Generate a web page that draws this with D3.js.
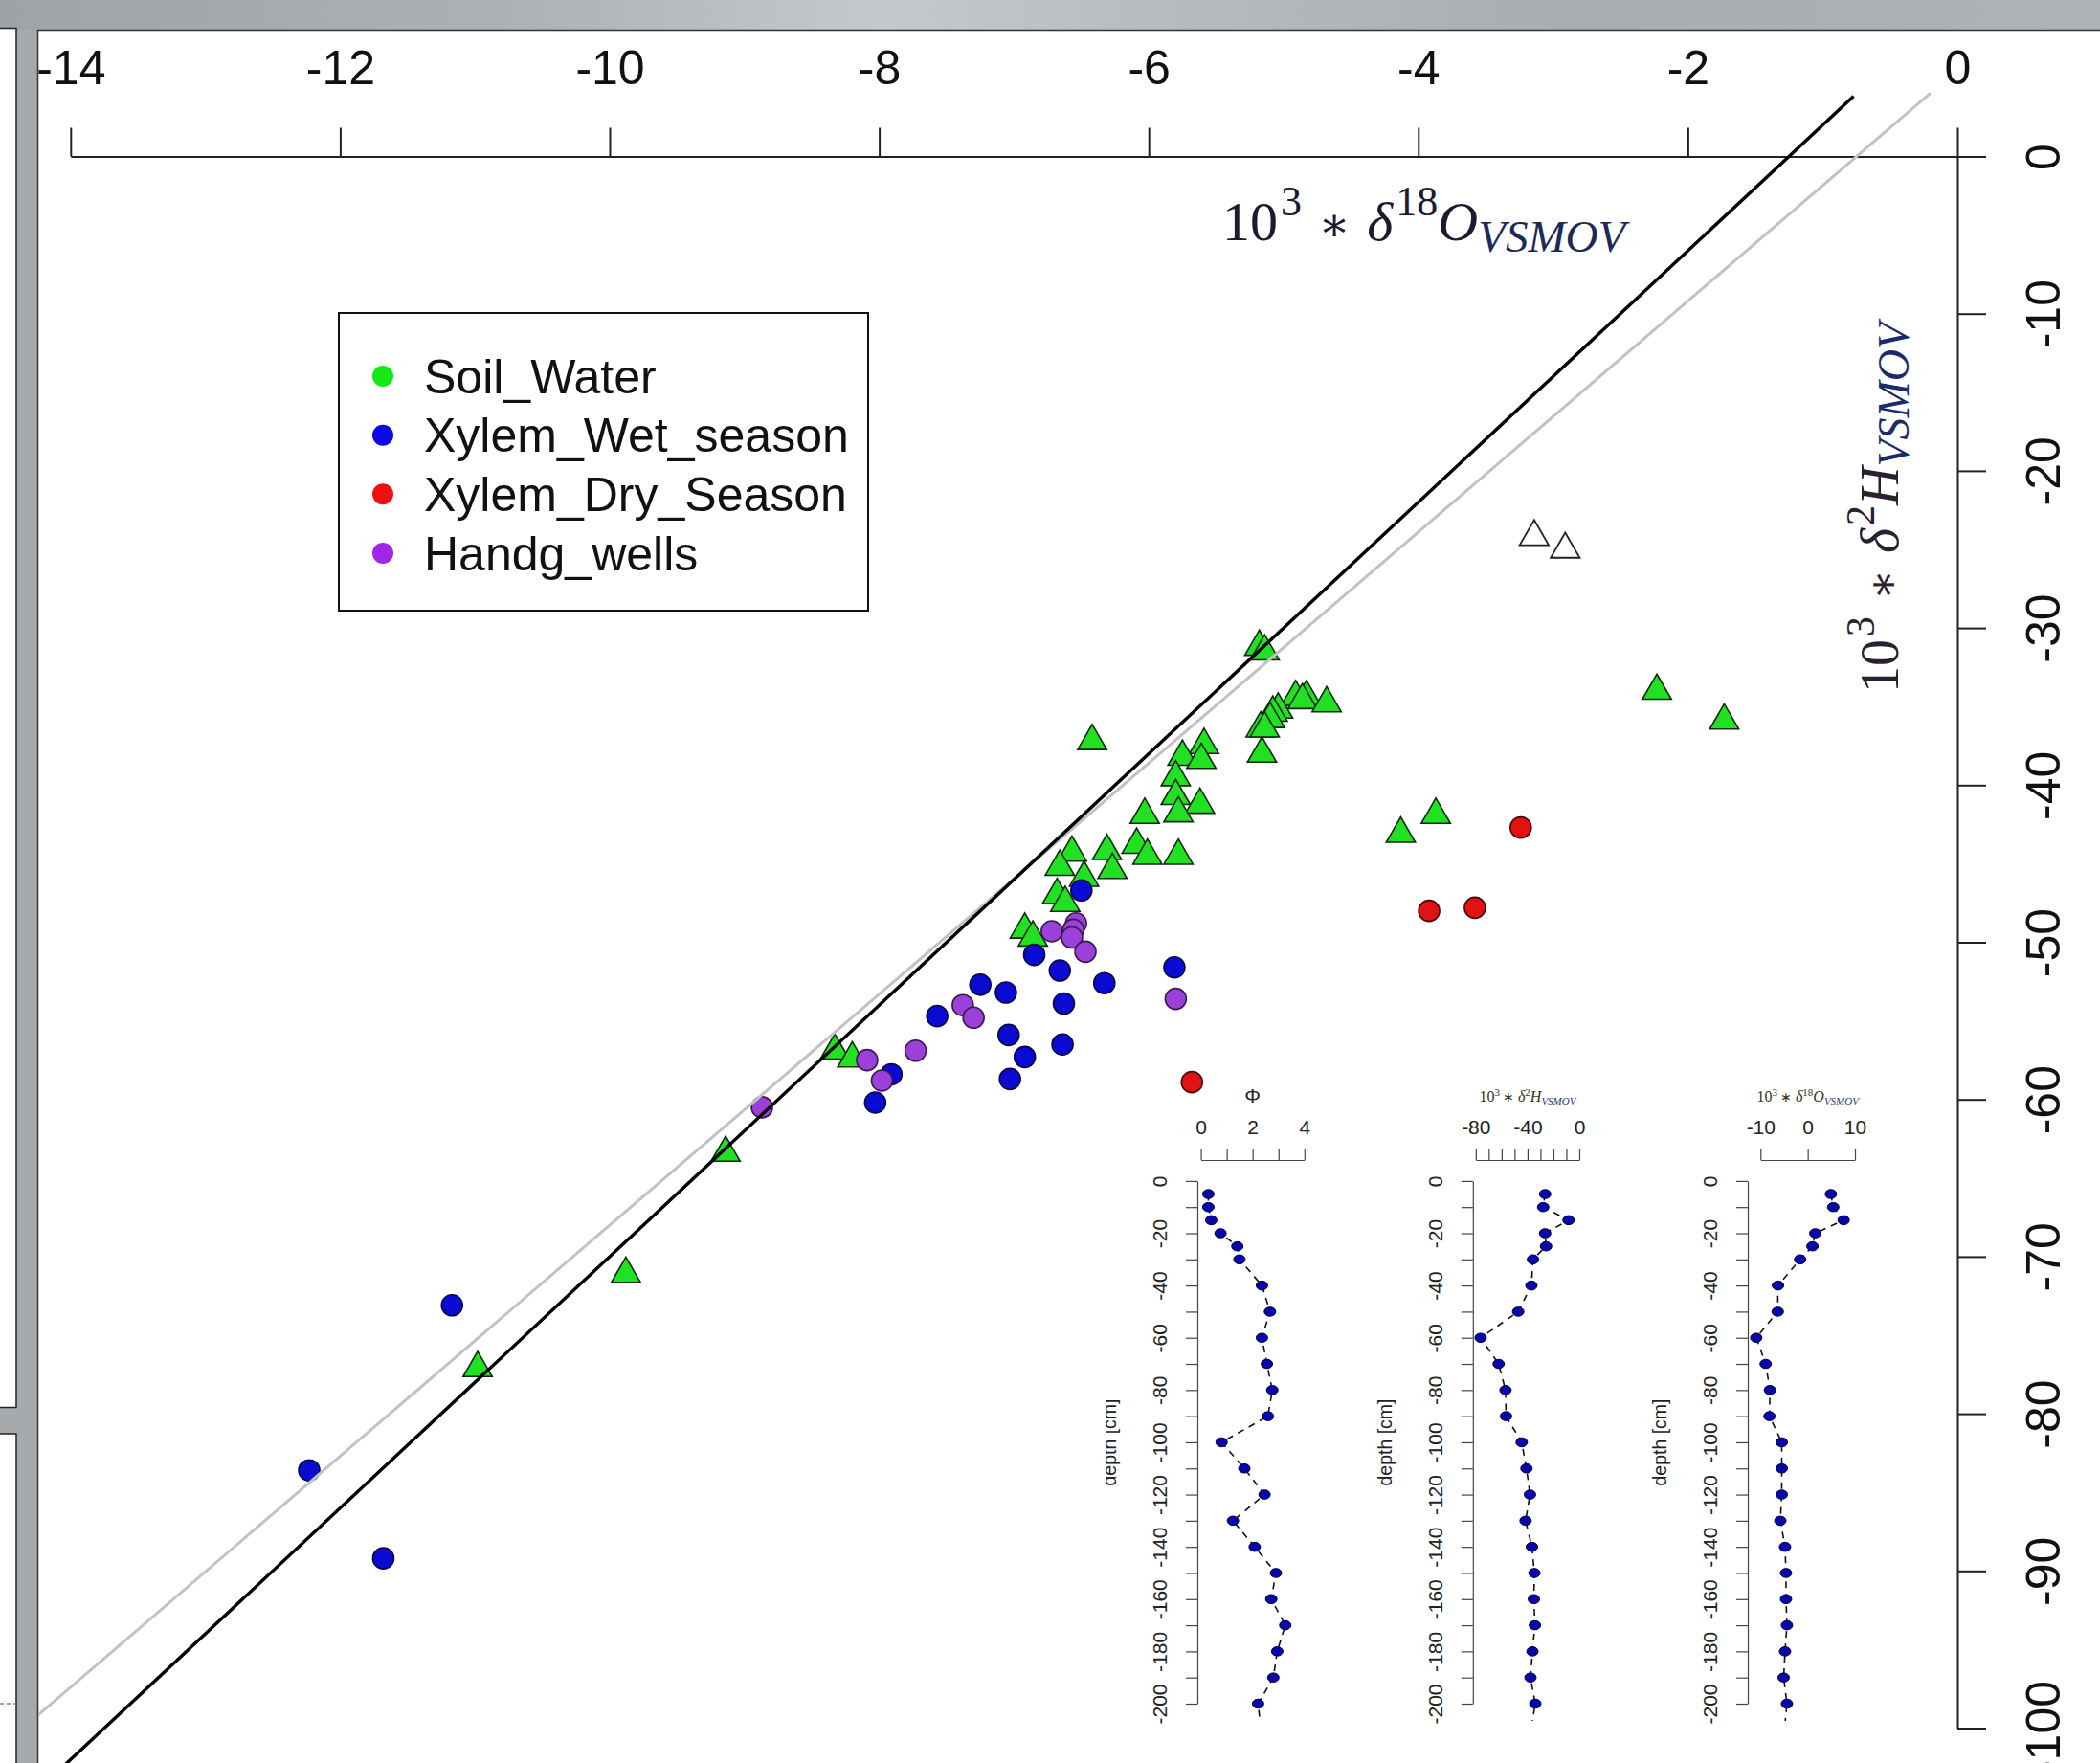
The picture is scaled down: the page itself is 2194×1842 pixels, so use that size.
<!DOCTYPE html>
<html><head><meta charset="utf-8">
<script src="https://cdn.jsdelivr.net/npm/d3@7"></script>
<style>body{margin:0;background:#fff}svg{display:block}</style>
</head><body>
<svg id="chart" width="2194" height="1842"></svg>
<script>
// ---------------- DATA ----------------
const seriesNames = ["Soil_Water", "Xylem_Wet_season", "Xylem_Dry_Season", "Handg_wells"];
const xTicks = [-14, -12, -10, -8, -6, -4, -2, 0];
const yTicks = [0, -10, -20, -30, -40, -50, -60, -70, -80, -90, -100];

// Soil water (triangles): δ18O, δ2H
const soilO = [-5.18,-5.14,-6.42,-4.91,-4.83,-4.86,-4.68,-5.04,-5.08,-5.10,-5.17,-5.14,-5.16,-5.59,-5.75,-5.61,-5.80,-5.80,-5.62,-5.78,-6.03,-6.09,-6.01,-5.78,-6.31,-6.27,-6.57,-6.66,-6.48,-6.68,-6.62,-6.92,-6.86,-8.33,-8.20,-9.14,-9.88,-10.98,-2.23,-1.73,-4.13,-3.87];
const soilH = [-31.2,-31.5,-37.2,-34.4,-34.4,-34.6,-34.8,-35.2,-35.4,-35.8,-36.4,-36.4,-38.0,-37.45,-38.2,-38.4,-39.5,-40.7,-41.25,-41.8,-41.9,-43.8,-44.5,-44.5,-44.2,-45.4,-44.3,-45.2,-45.9,-47.0,-47.5,-49.2,-49.7,-56.9,-57.4,-63.4,-71.1,-77.1,-34.0,-35.9,-43.1,-41.9];
// Unfilled triangles
const openO = [-3.14, -2.91];
const openH = [-24.2, -25.0];
// Xylem wet season (blue)
const wetO = [-6.50,-6.85,-6.66,-6.33,-5.81,-7.25,-7.06,-7.57,-6.63,-7.04,-6.64,-6.92,-7.03,-7.91,-8.03,-11.17,-12.23,-11.68];
const wetH = [-46.7,-50.8,-51.8,-52.6,-51.6,-52.7,-53.2,-54.7,-53.9,-55.9,-56.5,-57.3,-58.7,-58.4,-60.2,-73.1,-83.6,-89.2];
// Xylem dry season (red)
const dryO = [-5.68,-3.24,-3.92,-3.58];
const dryH = [-58.9,-42.7,-48.0,-47.8];
// Hand-dug wells (purple)
const wellO = [-6.72,-6.54,-6.56,-6.57,-6.47,-5.80,-7.38,-7.30,-7.73,-8.09,-7.98,-8.87];
const wellH = [-49.3,-48.8,-49.2,-49.7,-50.6,-53.6,-54.0,-54.8,-56.9,-57.5,-58.8,-60.5];
// Meteoric water lines: slope, intercept, x extent
const gmwl = {slope: 8, intercept: 10, x: [-14.6, -0.77]};
const lmwl = {slope: 7.35, intercept: 5.5, x: [-14.6, -0.2]};

// Soil profiles (insets)
const depth = [-5,-10,-15,-20,-25,-30,-40,-50,-60,-70,-80,-90,-100,-110,-120,-130,-140,-150,-160,-170,-180,-190,-200,-215];
const phi  = [0.29,0.29,0.40,0.76,1.41,1.49,2.36,2.67,2.36,2.55,2.76,2.59,0.80,1.68,2.46,1.24,2.08,2.90,2.72,3.26,2.95,2.80,2.21,2.38];
const d2H  = [-26.4,-27.9,-8.3,-26.4,-25.7,-35.8,-37.0,-47.2,-76.2,-62.3,-57.0,-56.6,-44.5,-40.8,-38.1,-41.5,-36.6,-34.7,-35.1,-34.3,-36.2,-37.7,-34.0,-39];
const d18O = [4.9,5.4,7.6,1.6,1.0,-1.6,-6.3,-6.35,-10.9,-8.9,-8.0,-8.1,-5.5,-5.5,-5.5,-5.8,-4.8,-4.6,-4.6,-4.4,-4.8,-5.1,-4.4,-5.2];
const depthTicks = d3.range(0, -201, -10);
const phiTicks = [0,1,2,3,4], phiLabels = [0,2,4];
const d2HTicks = d3.range(-80, 1, 10), d2HLabels = [-80,-40,0];
const d18OTicks = [-10,0,10], d18OLabels = [-10,0,10];

// ---------------- DRAW ----------------
const svg = d3.select("#chart");
const W = 2194, H = 1842;
const defs = svg.append("defs");
const grad = defs.append("linearGradient").attr("id","topband");
[["0%","#9fa3a6"],["25%","#aeb2b5"],["42%","#c6c9cc"],["55%","#b9bcbf"],["75%","#a9adb0"],["100%","#b0b3b6"]]
  .forEach(s => grad.append("stop").attr("offset", s[0]).attr("stop-color", s[1]));
defs.append("clipPath").attr("id","mainclip").append("rect")
  .attr("x", 40).attr("y", 32).attr("width", W - 40).attr("height", H - 32);

svg.append("rect").attr("width", W).attr("height", H).attr("fill", "#a6aaad");
svg.append("rect").attr("width", W).attr("height", 31).attr("fill", "url(#topband)");
// left side panels
svg.append("rect").attr("x", -2).attr("y", 29.5).attr("width", 19).attr("height", 1441)
  .attr("fill", "#fff").attr("stroke", "#222").attr("stroke-width", 1.5);
svg.append("rect").attr("x", -2).attr("y", 1498).attr("width", 19).attr("height", 400)
  .attr("fill", "#fff").attr("stroke", "#222").attr("stroke-width", 1.5);
svg.append("line").attr("x1", 0).attr("x2", 16).attr("y1", 1780).attr("y2", 1780)
  .attr("stroke", "#444").attr("stroke-dasharray", "4,3");
// main panel
svg.append("rect").attr("x", 39.5).attr("y", 31.5).attr("width", W).attr("height", H)
  .attr("fill", "#fff").attr("stroke", "#333").attr("stroke-width", 1.5);

const main = svg.append("g").attr("clip-path", "url(#mainclip)");
const x = d3.scaleLinear().domain([-14, 0]).range([73.8, 2045]);
const y = d3.scaleLinear().domain([0, -100]).range([163.5, 1805.5]);

// axes
const ax = main.append("g").attr("transform", `translate(0,${y(0)})`)
  .call(d3.axisTop(x).tickValues(xTicks).tickSize(30).tickSizeOuter(0).tickPadding(45.5).tickFormat(d => String(d)));
ax.selectAll("text").attr("font-family", "Liberation Sans, Arial, sans-serif").attr("font-size", 50).attr("fill", "#111");
ax.selectAll("line,path").attr("stroke", "#222").attr("stroke-width", 2);

const ay = main.append("g").attr("transform", `translate(${x(0)},0)`)
  .call(d3.axisRight(y).tickValues(yTicks).tickSize(30).tickSizeOuter(0).tickFormat(d => String(d)));
ay.selectAll("text").attr("font-family", "Liberation Sans, Arial, sans-serif").attr("font-size", 50).attr("fill", "#111")
  .attr("x", null).attr("dy", null).attr("text-anchor", "middle").attr("transform", "translate(107,0) rotate(-90)");
ay.selectAll("line,path").attr("stroke", "#222").attr("stroke-width", 2);

// axis titles
function mathLabel(sel, base, iso, sub, s) {
  const t = sel.append("text").attr("font-family", "Liberation Serif, 'DejaVu Serif', serif").attr("fill", s.color);
  t.append("tspan").attr("font-size", s.big).text("10");
  t.append("tspan").attr("font-size", s.sup).attr("dx", 3).attr("dy", -s.big * 0.45).text("3");
  t.append("tspan").attr("font-size", s.big * 0.85).attr("dy", s.big * 0.45).attr("dx", s.big * 0.3).text("\u2217");
  t.append("tspan").attr("font-size", s.big).attr("font-style", "italic").attr("dx", s.big * 0.3).text("\u03B4");
  t.append("tspan").attr("font-size", s.sup).attr("dx", 3).attr("dy", -s.big * 0.45).text(iso);
  t.append("tspan").attr("font-size", s.big).attr("font-style", "italic").attr("dy", s.big * 0.45).text(base);
  t.append("tspan").attr("font-size", s.sub).attr("font-style", "italic").attr("fill", s.subColor).attr("dy", s.big * 0.2).text(sub);
  return t;
}
mathLabel(main.append("g").attr("transform", "translate(1277,251)"), "O", "18", "VSMOV",
  {big: 58, sup: 44, sub: 47, color: "#1c1a2e", subColor: "#1c2a5a"});
mathLabel(main.append("g").attr("transform", "translate(1983,724) rotate(-90)"), "H", "2", "VSMOV",
  {big: 56, sup: 42, sub: 46, color: "#2a2030", subColor: "#1b2a6a"});

// meteoric water lines
const lineGen = d3.line().x(d => x(d[0])).y(d => y(d[1]));
function mwlPts(m) { return m.x.map(v => [v, m.slope * v + m.intercept]); }

// points
const triSym = d3.symbol().type(d3.symbolTriangle).size(400);
main.append("g").selectAll("path").data(d3.zip(soilO, soilH)).join("path")
  .attr("d", triSym).attr("transform", d => `translate(${x(d[0])},${y(d[1])})`)
  .attr("fill", "#22e022").attr("stroke", "#0d2a0d").attr("stroke-width", 1.6);
main.append("g").selectAll("path").data(d3.zip(openO, openH)).join("path")
  .attr("d", triSym).attr("transform", d => `translate(${x(d[0])},${y(d[1])})`)
  .attr("fill", "#fff").attr("stroke", "#222").attr("stroke-width", 1.8);
function circles(xs, ys, fill, stroke) {
  main.append("g").selectAll("circle").data(d3.zip(xs, ys)).join("circle")
    .attr("cx", d => x(d[0])).attr("cy", d => y(d[1])).attr("r", 11)
    .attr("fill", fill).attr("stroke", stroke).attr("stroke-width", 1.6);
}
circles(wetO, wetH, "#0a0ad2", "#08084a");
circles(dryO, dryH, "#e01212", "#4a0808");
circles(wellO, wellH, "#9b40d8", "#3a1a55");

main.append("path").datum(mwlPts(lmwl)).attr("d", lineGen).attr("fill", "none").attr("stroke", "#c2c2c2").attr("stroke-width", 3);
main.append("path").datum(mwlPts(gmwl)).attr("d", lineGen).attr("fill", "none").attr("stroke", "#000").attr("stroke-width", 3.4);

// legend
const legColors = ["#16e816", "#0a0ae6", "#ee1010", "#a026e8"];
const leg = main.append("g");
leg.append("rect").attr("x", 354).attr("y", 327).attr("width", 553).attr("height", 311)
  .attr("fill", "#fff").attr("stroke", "#111").attr("stroke-width", 2);
const legY = d3.scalePoint().domain(seriesNames).range([393, 578]);
seriesNames.forEach((n, i) => {
  leg.append("circle").attr("cx", 400).attr("cy", legY(n)).attr("r", 11).attr("fill", legColors[i]);
  leg.append("text").attr("x", 443).attr("y", legY(n)).attr("dy", "0.35em")
    .attr("font-family", "Liberation Sans, Arial, sans-serif").attr("font-size", 50).attr("fill", "#111").text(n);
});

// ---------------- INSETS ----------------
function inset(cfg) {
  const g = main.append("g");
  if (cfg.clipLeft) {
    const id = "ic" + Math.round(cfg.axisX);
    defs.append("clipPath").attr("id", id).append("rect")
      .attr("x", cfg.clipLeft).attr("y", 1100).attr("width", 400).attr("height", 742);
    g.attr("clip-path", `url(#${id})`);
  }
  const sx = d3.scaleLinear().domain(cfg.domain).range(cfg.range);
  const sy = d3.scaleLinear().domain([0, -200]).range([1233.9, 1780]);
  const xa = g.append("g").attr("transform", "translate(0,1212)")
    .call(d3.axisTop(sx).tickValues(cfg.ticks).tickSize(12).tickSizeOuter(0).tickPadding(15)
      .tickFormat(d => cfg.labels.includes(d) ? String(d) : ""));
  xa.selectAll("text").attr("font-family", "Liberation Sans, Arial, sans-serif").attr("font-size", 21).attr("fill", "#222");
  xa.selectAll("line,path").attr("stroke", "#444").attr("stroke-width", 1.2);
  const ya = g.append("g").attr("transform", `translate(${cfg.axisX},0)`)
    .call(d3.axisLeft(sy).tickValues(depthTicks).tickSize(12).tickSizeOuter(0)
      .tickFormat(d => d % 20 === 0 ? String(d) : ""));
  ya.selectAll("text").attr("font-family", "Liberation Sans, Arial, sans-serif").attr("font-size", 21).attr("fill", "#222")
    .attr("x", null).attr("dy", null).attr("text-anchor", "middle").attr("transform", "translate(-32,0) rotate(-90)");
  ya.selectAll("line,path").attr("stroke", "#444").attr("stroke-width", 1.2);
  g.append("text").attr("transform", `translate(${cfg.axisX - 85},1507) rotate(-90)`).attr("text-anchor", "middle")
    .attr("font-family", "Liberation Sans, Arial, sans-serif").attr("font-size", 19.5).attr("fill", "#222").text("depth [cm]");
  if (cfg.title === "phi") {
    g.append("text").attr("x", sx(2)).attr("y", 1152).attr("text-anchor", "middle")
      .attr("font-family", "Liberation Sans, Arial, sans-serif").attr("font-size", 21).attr("fill", "#222").text("\u03A6");
  } else {
    const t = g.append("text").attr("x", d3.mean(cfg.domain.map(sx))).attr("y", 1151).attr("text-anchor", "middle")
      .attr("font-family", "Liberation Serif, serif").attr("fill", "#3a3020");
    t.append("tspan").attr("font-size", 16).text("10");
    t.append("tspan").attr("font-size", 11).attr("dy", -6).text("3");
    t.append("tspan").attr("font-size", 14).attr("dy", 6).text(" \u2217 ");
    t.append("tspan").attr("font-size", 16).attr("font-style", "italic").text("\u03B4");
    t.append("tspan").attr("font-size", 11).attr("dy", -6).text(cfg.iso);
    t.append("tspan").attr("font-size", 16).attr("font-style", "italic").attr("dy", 6).text(cfg.base);
    t.append("tspan").attr("font-size", 11).attr("font-style", "italic").attr("fill", "#2a3a70").attr("dy", 3).text("VSMOV");
  }
  // data
  const pg = g.append("g");
  const cid = "pc" + Math.round(cfg.axisX);
  defs.append("clipPath").attr("id", cid).append("rect").attr("x", 1100).attr("y", 1200).attr("width", 1000).attr("height", 598);
  pg.attr("clip-path", `url(#${cid})`);
  const pts = d3.zip(cfg.values, depth);
  pg.append("path").datum(pts).attr("d", d3.line().x(d => sx(d[0])).y(d => sy(d[1])))
    .attr("fill", "none").attr("stroke", "#111").attr("stroke-width", 1.6).attr("stroke-dasharray", "7,6");
  pg.selectAll("ellipse").data(pts).join("ellipse")
    .attr("cx", d => sx(d[0])).attr("cy", d => sy(d[1])).attr("rx", 6).attr("ry", 4.8)
    .attr("fill", "#0606aa").attr("stroke", "#000040").attr("stroke-width", 1);
}
inset({title: "phi", domain: [0, 4], range: [1254.6, 1362.8], ticks: phiTicks, labels: phiLabels, axisX: 1251, values: phi, clipLeft: 1156});
inset({title: "h", base: "H", iso: "2", domain: [-80, 0], range: [1541.8, 1650], ticks: d2HTicks, labels: d2HLabels, axisX: 1538.8, values: d2H});
inset({title: "o", base: "O", iso: "18", domain: [-10, 10], range: [1839.3, 1938], ticks: d18OTicks, labels: d18OLabels, axisX: 1826, values: d18O});
</script>
</body></html>
